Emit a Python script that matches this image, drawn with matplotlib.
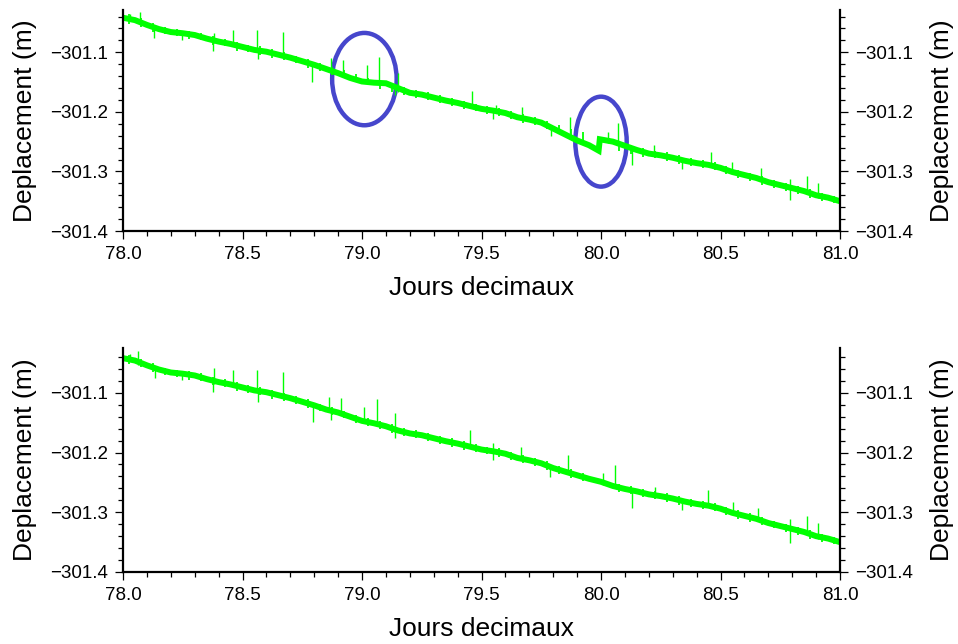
import numpy as np
import matplotlib
matplotlib.use("Agg")
from matplotlib import pyplot as plt
from matplotlib.patches import Ellipse

plt.rcParams['font.family'] = ['Liberation Sans', 'DejaVu Sans']

# time axis (decimal days) and displacement
days = [78.00, 78.05, 78.10, 78.15, 78.20, 78.25, 78.30, 78.35, 78.40, 78.45,
        78.50, 78.55, 78.60, 78.65, 78.70, 78.75, 78.80, 78.85, 78.90, 78.95,
        79.00, 79.05, 79.10, 79.15, 79.20, 79.25, 79.30, 79.35, 79.40, 79.45,
        79.50, 79.55, 79.60, 79.65, 79.70, 79.75, 79.80, 79.85, 79.90, 79.95,
        80.00, 80.05, 80.10, 80.15, 80.20, 80.25, 80.30, 80.35, 80.40, 80.45,
        80.50, 80.55, 80.60, 80.65, 80.70, 80.75, 80.80, 80.85, 80.90, 80.95,
        81.00]

# corrected series (lower panel)
depl_corr = [-301.042, -301.046, -301.054, -301.061, -301.066, -301.068, -301.071,
             -301.077, -301.082, -301.086, -301.091, -301.096, -301.099, -301.104,
             -301.109, -301.115, -301.121, -301.128, -301.133, -301.140, -301.147,
             -301.151, -301.156, -301.163, -301.168, -301.171, -301.176, -301.181,
             -301.185, -301.190, -301.195, -301.198, -301.202, -301.209, -301.213,
             -301.218, -301.226, -301.232, -301.238, -301.244, -301.249, -301.256,
             -301.261, -301.265, -301.270, -301.273, -301.277, -301.282, -301.286,
             -301.289, -301.294, -301.301, -301.306, -301.311, -301.318, -301.323,
             -301.328, -301.333, -301.340, -301.344, -301.350]

# raw series (upper panel), with the jumps around 79.0 and 80.0
days_raw = [78.00, 78.05, 78.10, 78.15, 78.20, 78.25, 78.30, 78.35, 78.40, 78.45,
            78.50, 78.55, 78.60, 78.65, 78.70, 78.75, 78.80, 78.85, 78.90, 78.95,
            79.00, 79.05, 79.10, 79.15, 79.20, 79.25, 79.30, 79.35, 79.40, 79.45,
            79.50, 79.55, 79.60, 79.65, 79.70, 79.75, 79.80, 79.85, 79.90, 79.95,
            79.99, 79.995, 80.05, 80.10, 80.15, 80.20, 80.25, 80.30, 80.35, 80.40,
            80.45, 80.50, 80.55, 80.60, 80.65, 80.70, 80.75, 80.80, 80.85, 80.90,
            80.95, 81.00]
depl_raw = [-301.042, -301.046, -301.054, -301.061, -301.066, -301.068, -301.071,
            -301.077, -301.082, -301.086, -301.091, -301.096, -301.099, -301.104,
            -301.109, -301.115, -301.121, -301.128, -301.135, -301.143, -301.149,
            -301.151, -301.152, -301.160, -301.168, -301.171, -301.176, -301.181,
            -301.185, -301.190, -301.195, -301.198, -301.202, -301.209, -301.213,
            -301.218, -301.228, -301.238, -301.248, -301.256, -301.265, -301.246,
            -301.250, -301.257, -301.264, -301.270, -301.273, -301.277, -301.282,
            -301.286, -301.289, -301.294, -301.301, -301.306, -301.311, -301.318,
            -301.323, -301.328, -301.333, -301.340, -301.344, -301.350]

# outlier spikes: day, low end, high end
spk_raw_day = [78.03, 78.07, 78.13, 78.245, 78.375, 78.38, 78.46, 78.56, 78.565, 78.67,
               78.79, 78.87, 78.92, 79.02, 79.07, 79.15, 79.14, 79.46, 79.56, 79.55,
               79.67, 79.79, 79.87, 80.03, 80.07, 80.13, 80.22, 80.34, 80.46, 80.55,
               80.67, 80.79, 80.86, 80.91]
spk_raw_lo = [-301.046, -301.052, -301.076, -301.079, -301.098, -301.085, -301.090,
              -301.097, -301.112, -301.106, -301.150, -301.130, -301.137, -301.151,
              -301.154, -301.166, -301.172, -301.192, -301.200, -301.212, -301.211,
              -301.240, -301.236, -301.252, -301.256, -301.290, -301.272, -301.296,
              -301.292, -301.300, -301.315, -301.348, -301.338, -301.345]
spk_raw_hi = [-301.035, -301.032, -301.060, -301.066, -301.078, -301.067, -301.062,
              -301.062, -301.096, -301.066, -301.118, -301.109, -301.113, -301.121,
              -301.108, -301.134, -301.160, -301.165, -301.188, -301.196, -301.192,
              -301.222, -301.208, -301.234, -301.218, -301.258, -301.255, -301.279,
              -301.267, -301.284, -301.294, -301.312, -301.308, -301.320]

spk_corr_day = [78.03, 78.064, 78.134, 78.245, 78.375, 78.38, 78.46, 78.56, 78.565,
                78.67, 78.794, 78.862, 78.87, 78.912, 79.008, 79.061, 79.138, 79.14,
                79.45, 79.548, 79.55, 79.664, 79.787, 79.863, 80.008, 80.059, 80.131,
                80.226, 80.337, 80.449, 80.552, 80.657, 80.79, 80.861, 80.909]
spk_corr_lo = [-301.046, -301.054, -301.076, -301.079, -301.098, -301.085, -301.090,
               -301.097, -301.115, -301.106, -301.149, -301.130, -301.146, -301.137,
               -301.150, -301.153, -301.166, -301.176, -301.192, -301.200, -301.213,
               -301.211, -301.241, -301.234, -301.254, -301.258, -301.293, -301.272,
               -301.296, -301.292, -301.300, -301.315, -301.351, -301.338, -301.345]
spk_corr_hi = [-301.035, -301.030, -301.060, -301.066, -301.078, -301.059, -301.062,
               -301.062, -301.096, -301.066, -301.118, -301.107, -301.130, -301.109,
               -301.124, -301.111, -301.134, -301.160, -301.163, -301.184, -301.196,
               -301.190, -301.222, -301.204, -301.234, -301.221, -301.260, -301.257,
               -301.279, -301.263, -301.282, -301.293, -301.312, -301.307, -301.318]

# small scatter of the raw samples around the trend (both panels)
fuzz_day = [78.025, 78.075, 78.125, 78.175, 78.225, 78.275, 78.325, 78.375, 78.425,
            78.475, 78.525, 78.575, 78.625, 78.675, 78.725, 78.775, 78.825, 78.875,
            78.925, 78.975, 79.025, 79.075, 79.125, 79.175, 79.225, 79.275, 79.325,
            79.375, 79.425, 79.475, 79.525, 79.575, 79.625, 79.675, 79.725, 79.775,
            79.825, 79.875, 79.925, 80.075, 80.125, 80.175, 80.225, 80.275, 80.325,
            80.375, 80.425, 80.475, 80.525, 80.575, 80.625, 80.675, 80.725, 80.775,
            80.825, 80.875, 80.925, 80.975]
fuzz_lo = [-301.052, -301.057, -301.066, -301.070, -301.073, -301.078, -301.080,
           -301.087, -301.090, -301.097, -301.100, -301.104, -301.110, -301.113,
           -301.118, -301.126, -301.131, -301.138, -301.143, -301.150, -301.155,
           -301.161, -301.167, -301.172, -301.176, -301.180, -301.185, -301.190,
           -301.195, -301.199, -301.203, -301.207, -301.212, -301.218, -301.222,
           -301.229, -301.236, -301.242, -301.248, -301.266, -301.270, -301.275,
           -301.278, -301.282, -301.287, -301.291, -301.295, -301.298, -301.305,
           -301.311, -301.316, -301.322, -301.327, -301.333, -301.338, -301.344,
           -301.349, -301.353]
fuzz_hi = [-301.036, -301.043, -301.050, -301.058, -301.061, -301.064, -301.067,
           -301.073, -301.077, -301.082, -301.087, -301.090, -301.095, -301.100,
           -301.106, -301.111, -301.118, -301.124, -301.130, -301.137, -301.143,
           -301.147, -301.152, -301.159, -301.163, -301.167, -301.172, -301.176,
           -301.181, -301.186, -301.190, -301.193, -301.199, -301.204, -301.209,
           -301.215, -301.222, -301.228, -301.234, -301.252, -301.256, -301.261,
           -301.265, -301.268, -301.273, -301.277, -301.281, -301.285, -301.291,
           -301.297, -301.302, -301.308, -301.314, -301.319, -301.324, -301.330,
           -301.336, -301.341]

# circled anomalies on the upper panel: centre day, centre value, width, height
circ_day = [79.01, 80.00]
circ_val = [-301.145, -301.250]
circ_w = [0.27, 0.215]
circ_h = [0.155, 0.151]

green = '#00ff00'
blue = '#4646cc'


def fmt(v, pos):
    return ('%.1f' % v).replace('-', '\u2212')


def style_axes(ax, ytop):
    ax.set_xlim(78.0, 81.0)
    ax.set_ylim(-301.4, ytop)
    ax.set_xticks([78.0, 78.5, 79.0, 79.5, 80.0, 80.5, 81.0])
    ax.set_xticks(np.arange(78.0, 81.01, 0.1), minor=True)
    ax.set_yticks([-301.4, -301.3, -301.2, -301.1])
    ax.set_yticks(np.arange(-301.4, ytop, 0.02), minor=True)
    ax.xaxis.set_major_formatter(plt.FuncFormatter(fmt))
    ax.yaxis.set_major_formatter(plt.FuncFormatter(fmt))
    ax.spines['top'].set_visible(False)
    for s in ['left', 'right', 'bottom']:
        ax.spines[s].set_linewidth(1.6)
    ax.tick_params(which='major', direction='out', length=6, width=0.9,
                   labelsize=13.5, pad=5, right=True, labelright=True)
    ax.tick_params(which='minor', direction='out', length=3.5, width=0.9, right=True)
    ax.set_xlabel('Jours decimaux', fontsize=19, labelpad=9)
    ax.set_ylabel('Deplacement (m)', fontsize=19, labelpad=9)
    # same label on the right side
    ax.text(1.142, 0.5, 'Deplacement (m)', transform=ax.transAxes, rotation=90,
            fontsize=19, ha='center', va='center')


fig = plt.figure(figsize=(9.58, 6.44), dpi=100)
ax1 = fig.add_axes([123 / 958, 1 - 231 / 644, 717 / 958, 221 / 644])
ax2 = fig.add_axes([123 / 958, 1 - 572 / 644, 717 / 958, 224 / 644])

ax1.plot(days_raw, depl_raw, color=green, lw=4.3, solid_joinstyle='miter')
ax1.vlines(fuzz_day, fuzz_lo, fuzz_hi, color=green, lw=1.3)
ax1.vlines(spk_raw_day, spk_raw_lo, spk_raw_hi, color=green, lw=1)
for d, v, w, h in zip(circ_day, circ_val, circ_w, circ_h):
    ax1.add_patch(Ellipse((d, v), w, h, fill=False, ec=blue, lw=3.2))
style_axes(ax1, -301.029)

ax2.plot(days, depl_corr, color=green, lw=4.3, solid_joinstyle='miter')
ax2.vlines(fuzz_day, fuzz_lo, fuzz_hi, color=green, lw=1.3)
ax2.vlines(spk_corr_day, spk_corr_lo, spk_corr_hi, color=green, lw=1)
style_axes(ax2, -301.025)

plt.savefig('out.png', dpi=100)
